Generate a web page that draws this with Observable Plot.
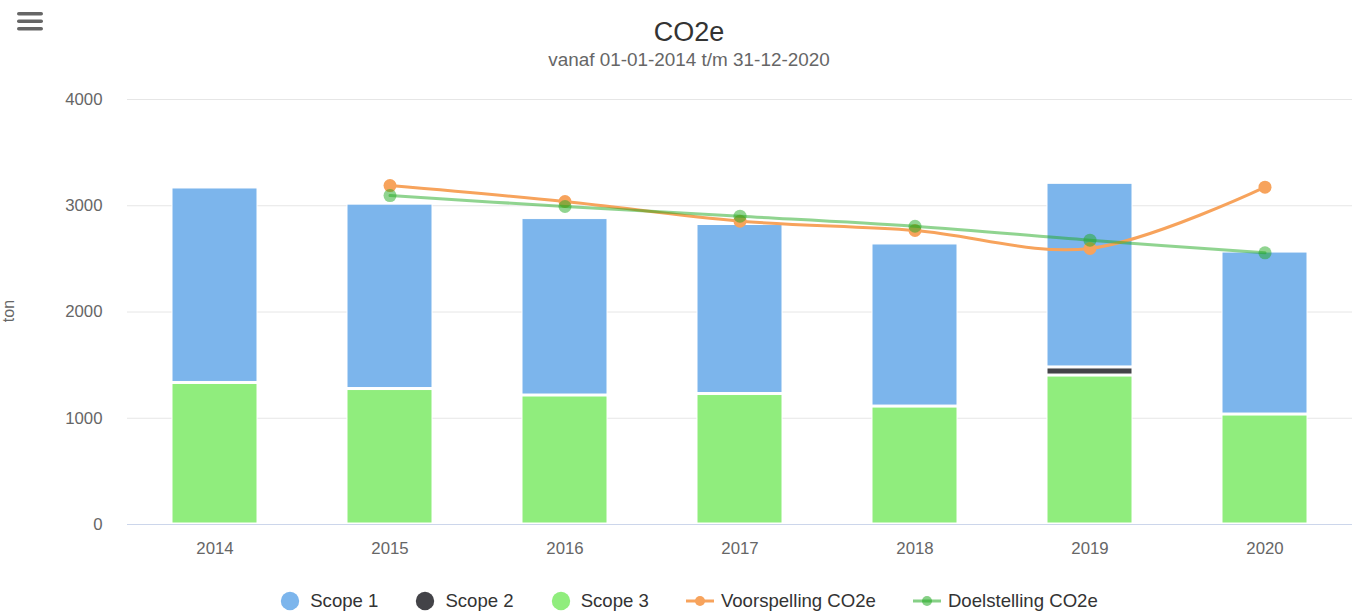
<!DOCTYPE html>
<html>
<head>
<meta charset="utf-8">
<script src="https://cdn.jsdelivr.net/npm/d3@7"></script>
<script src="https://cdn.jsdelivr.net/npm/@observablehq/plot@0.6"></script>
<style>
  html, body { margin: 0; padding: 0; background: #fff; }
  #wrap { position: relative; width: 1359px; height: 613px; overflow: hidden;
          font-family: "Liberation Sans", Arial, Helvetica, sans-serif; }
  #menu { position: absolute; left: 16px; top: 11px; }
  #title { position: absolute; left: 0; width: 1378px; top: 19px; text-align: center;
           font-size: 27px; line-height: 27px; color: #333; }
  #subtitle { position: absolute; left: 0; width: 1378px; top: 50px; text-align: center;
              font-size: 18.9px; line-height: 19px; color: #666; }
  #ylab { position: absolute; left: 0; top: 0; width: 20px; height: 613px; }
  #chart { position: absolute; left: 0; top: 80px; }
  #legend { position: absolute; left: 0; width: 1378px; top: 589px; height: 24px;
            display: flex; justify-content: center; align-items: center; gap: 37px;
            font-size: 18.6px; color: #333; }
  .item { display: flex; align-items: center; white-space: nowrap; }
  .item svg { display: block; margin-right: 10px; }
  .item.line svg { margin-right: 7px; }
</style>
</head>
<body>
<div id="wrap">
  <svg id="menu" width="30" height="22" viewBox="0 0 30 22">
    <rect x="1" y="1" width="26" height="3.5" rx="1.75" fill="#666"/>
    <rect x="1" y="8.5" width="26" height="3.5" rx="1.75" fill="#666"/>
    <rect x="1" y="16" width="26" height="3.5" rx="1.75" fill="#666"/>
  </svg>
  <div id="title">CO2e</div>
  <div id="subtitle">vanaf 01-01-2014 t/m 31-12-2020</div>
  <svg id="ylab" width="20" height="613">
    <text transform="translate(14,311) rotate(-90)" text-anchor="middle"
          font-family="Liberation Sans, Arial, sans-serif" font-size="16" fill="#666">ton</text>
  </svg>
  <div id="chart"></div>
  <div id="legend"></div>
</div>
<script>
// ---- data ----
const years = ["2014", "2015", "2016", "2017", "2018", "2019", "2020"];
const scope1 = [1840, 1745, 1670, 1600, 1535, 1738, 1534];
const scope2 = [0, 0, 0, 0, 0, 76, 0];
const scope3 = [1332, 1275, 1214, 1228, 1110, 1402, 1035];

const lineYears = ["2015", "2016", "2017", "2018", "2019", "2020"];
const voorspelling = [3190, 3040, 2855, 2767, 2598, 3175];
const doelstelling = [3096, 2993, 2902, 2807, 2676, 2557];

const yTicks = [0, 1000, 2000, 3000, 4000];

const barSeries = ["Scope 1", "Scope 2", "Scope 3"];
const barColors = ["#7cb5ec", "#434348", "#90ed7d"];
const lineSeries = ["Voorspelling CO2e", "Doelstelling CO2e"];
const lineColors = ["#f7a35c", "#22aa22"];

// ---- tables ----
const barData = [];
years.forEach((yr, i) => {
  [["Scope 3", scope3[i]], ["Scope 2", scope2[i]], ["Scope 1", scope1[i]]].forEach(([s, v]) => {
    if (v > 0) barData.push({year: yr, series: s, value: v});
  });
});
const forecastData = lineYears.map((yr, i) => ({year: yr, value: voorspelling[i]}));
const targetData = lineYears.map((yr, i) => ({year: yr, value: doelstelling[i]}));

const chart = Plot.plot({
  width: 1359,
  height: 484,
  marginLeft: 127,
  marginRight: 7,
  marginTop: 19,
  marginBottom: 40,
  style: {fontFamily: "Liberation Sans, Arial, sans-serif", fontSize: "16.8px", color: "#666", background: "transparent"},
  x: {type: "band", domain: years, padding: 0, label: null},
  y: {domain: [0, 4000], label: null},
  color: {domain: barSeries, range: barColors},
  marks: [
    Plot.ruleY(yTicks.filter(t => t > 0), {stroke: "#e6e6e6", strokeWidth: 1}),
    Plot.barY(barData, {
      x: "year", y: "value", fill: "series",
      order: ["Scope 3", "Scope 2", "Scope 1"],
      stroke: "white", strokeWidth: 1,
      insetLeft: 45, insetRight: 45, insetTop: 1, insetBottom: 1
    }),
    Plot.ruleY([0], {stroke: "#ccd6eb", strokeWidth: 1}),
    Plot.axisY({ticks: yTicks, tickSize: 0, tickPadding: 25, tickFormat: d3.format("d"), label: null}),
    Plot.axisX({tickSize: 0, tickPadding: 18, label: null}),
    Plot.line(forecastData, {x: "year", y: "value", stroke: lineColors[0], strokeWidth: 3, curve: "catmull-rom"}),
    Plot.dot(forecastData, {x: "year", y: "value", r: 6.5, fill: lineColors[0], stroke: "none"}),
    Plot.line(targetData, {x: "year", y: "value", stroke: lineColors[1], strokeOpacity: 0.5, strokeWidth: 3, curve: "catmull-rom"}),
    Plot.dot(targetData, {x: "year", y: "value", r: 6.5, fill: lineColors[1], fillOpacity: 0.5, stroke: "none"})
  ]
});
document.getElementById("chart").appendChild(chart);

// ---- legend ----
const legend = document.getElementById("legend");
barSeries.forEach((s, i) => {
  const it = document.createElement("div");
  it.className = "item";
  it.innerHTML = `<svg width="20" height="20"><circle cx="10" cy="10" r="9.2" fill="${barColors[i]}"/></svg><span>${s}</span>`;
  legend.appendChild(it);
});
lineSeries.forEach((s, i) => {
  const it = document.createElement("div");
  it.className = "item line";
  const op = i === 1 ? 0.55 : 1;
  it.innerHTML = `<svg width="28" height="20"><line x1="0" x2="28" y1="10" y2="10" stroke="${lineColors[i]}" stroke-opacity="${op}" stroke-width="3"/><circle cx="14" cy="10" r="5" fill="${lineColors[i]}" fill-opacity="${op}"/></svg><span>${s}</span>`;
  legend.appendChild(it);
});
</script>
</body>
</html>
